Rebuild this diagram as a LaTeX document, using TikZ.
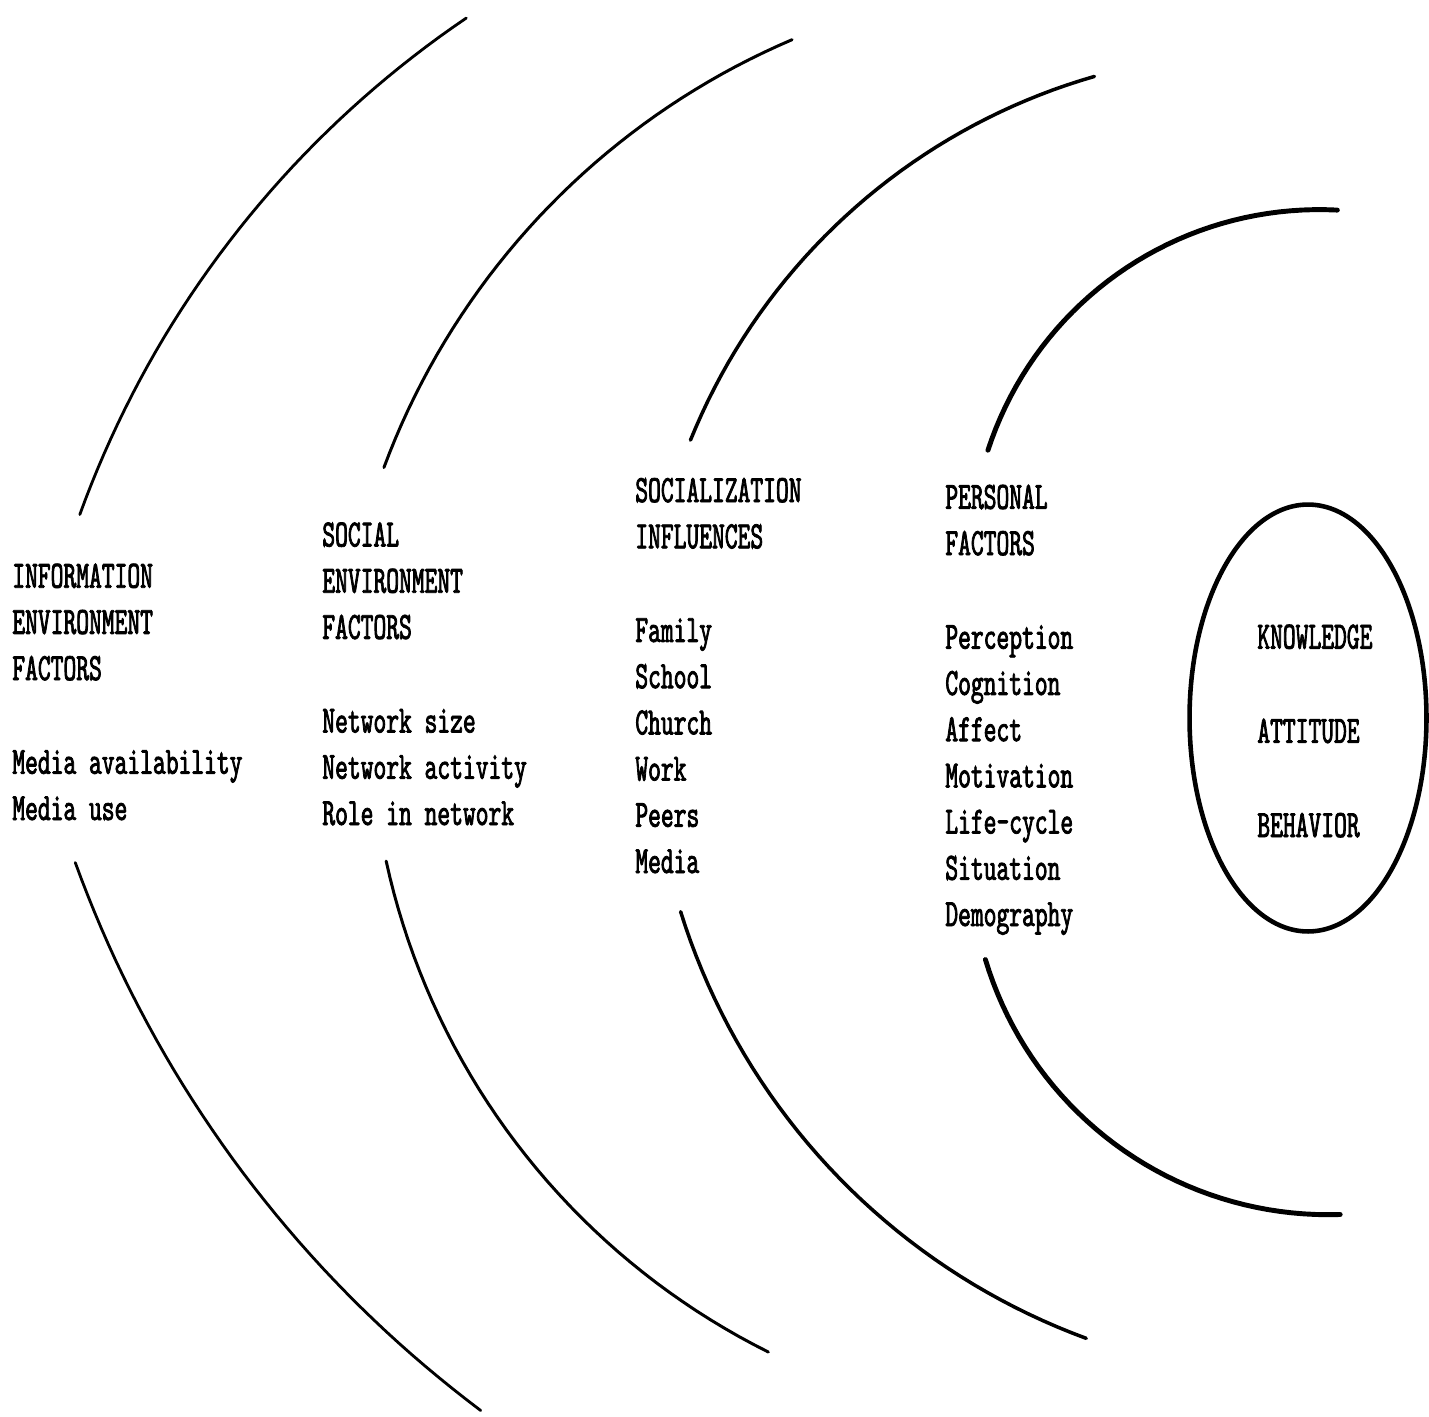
\documentclass[tikz,border=0pt]{standalone}
\usepackage{fontspec}
\setmonofont{lmmono10-regular.otf}[FakeStretch=0.63,FakeBold=2]
\usetikzlibrary{shapes.geometric}

\begin{document}
\begin{tikzpicture}[x=0.02cm, y=-0.02cm,
        words/.style={font=\ttfamily\fontsize{22}{26.3}\selectfont, align=left, anchor=base west, inner sep=0pt},
        ring/.style={line width=#1, line cap=round}
    ]
    \useasboundingbox (0,0) rectangle (1429,1416);

    % rings, outer to inner (upper half, then lower half)
    \draw[ring=1.6pt] plot[domain=199.9:235.9, samples=40] ({1037+1018*cos(\x)}, {861+1018*sin(\x)});
    \draw[ring=1.6pt] plot[domain=126.9:160.1, samples=40] ({1197+1193*cos(\x)}, {456.5+1193*sin(\x)});
    \draw[ring=1.7pt] plot[domain=200.4:246.9, samples=40] ({1085.9+749*cos(\x)}, {728.6+749*sin(\x)});
    \draw[ring=1.7pt] plot[domain=116.5:167.7, samples=40] ({1089.6+720*cos(\x)}, {707.7+720*sin(\x)});
    \draw[ring=2pt] plot[domain=202:254, samples=40] ({1265.3+620*cos(\x)}, {672.4+620*sin(\x)});
    \draw[ring=2pt] plot[domain=110.2:162.7, samples=40] ({1316+665.5*cos(\x)}, {713.8+665.5*sin(\x)});
    \draw[ring=2.8pt] plot[domain=198:273, samples=40] ({1319.1+348.2*cos(\x)}, {557.8+348.2*sin(\x)});
    \draw[ring=2.8pt] plot[domain=88.1:163.3, samples=40] ({1328.3+358*cos(\x)}, {856.7+358*sin(\x)});

    % core
    \node[draw, ellipse, line width=2.6pt, minimum width=4.74cm, minimum height=8.54cm, inner sep=0pt] (core) at (1308,718) {};

    \node[words] (info) at (12,820) {INFORMATION\\ENVIRONMENT\\FACTORS\\[0.95cm]Media availability\\Media use};
    \node[words] (social) at (322,825) {SOCIAL\\ENVIRONMENT\\FACTORS\\[0.95cm]Network size\\Network activity\\Role in network};
    \node[words] (socialization) at (635,873) {SOCIALIZATION\\INFLUENCES\\[0.95cm]Family\\School\\Church\\Work\\Peers\\Media};
    \node[words] (personal) at (945,926) {PERSONAL\\FACTORS\\[0.95cm]Perception\\Cognition\\Affect\\Motivation\\Life-cycle\\Situation\\Demography};
    \node[words] (kab) at (1257,837) {KNOWLEDGE\\[0.96cm]ATTITUDE\\[0.96cm]BEHAVIOR};
\end{tikzpicture}
\end{document}
